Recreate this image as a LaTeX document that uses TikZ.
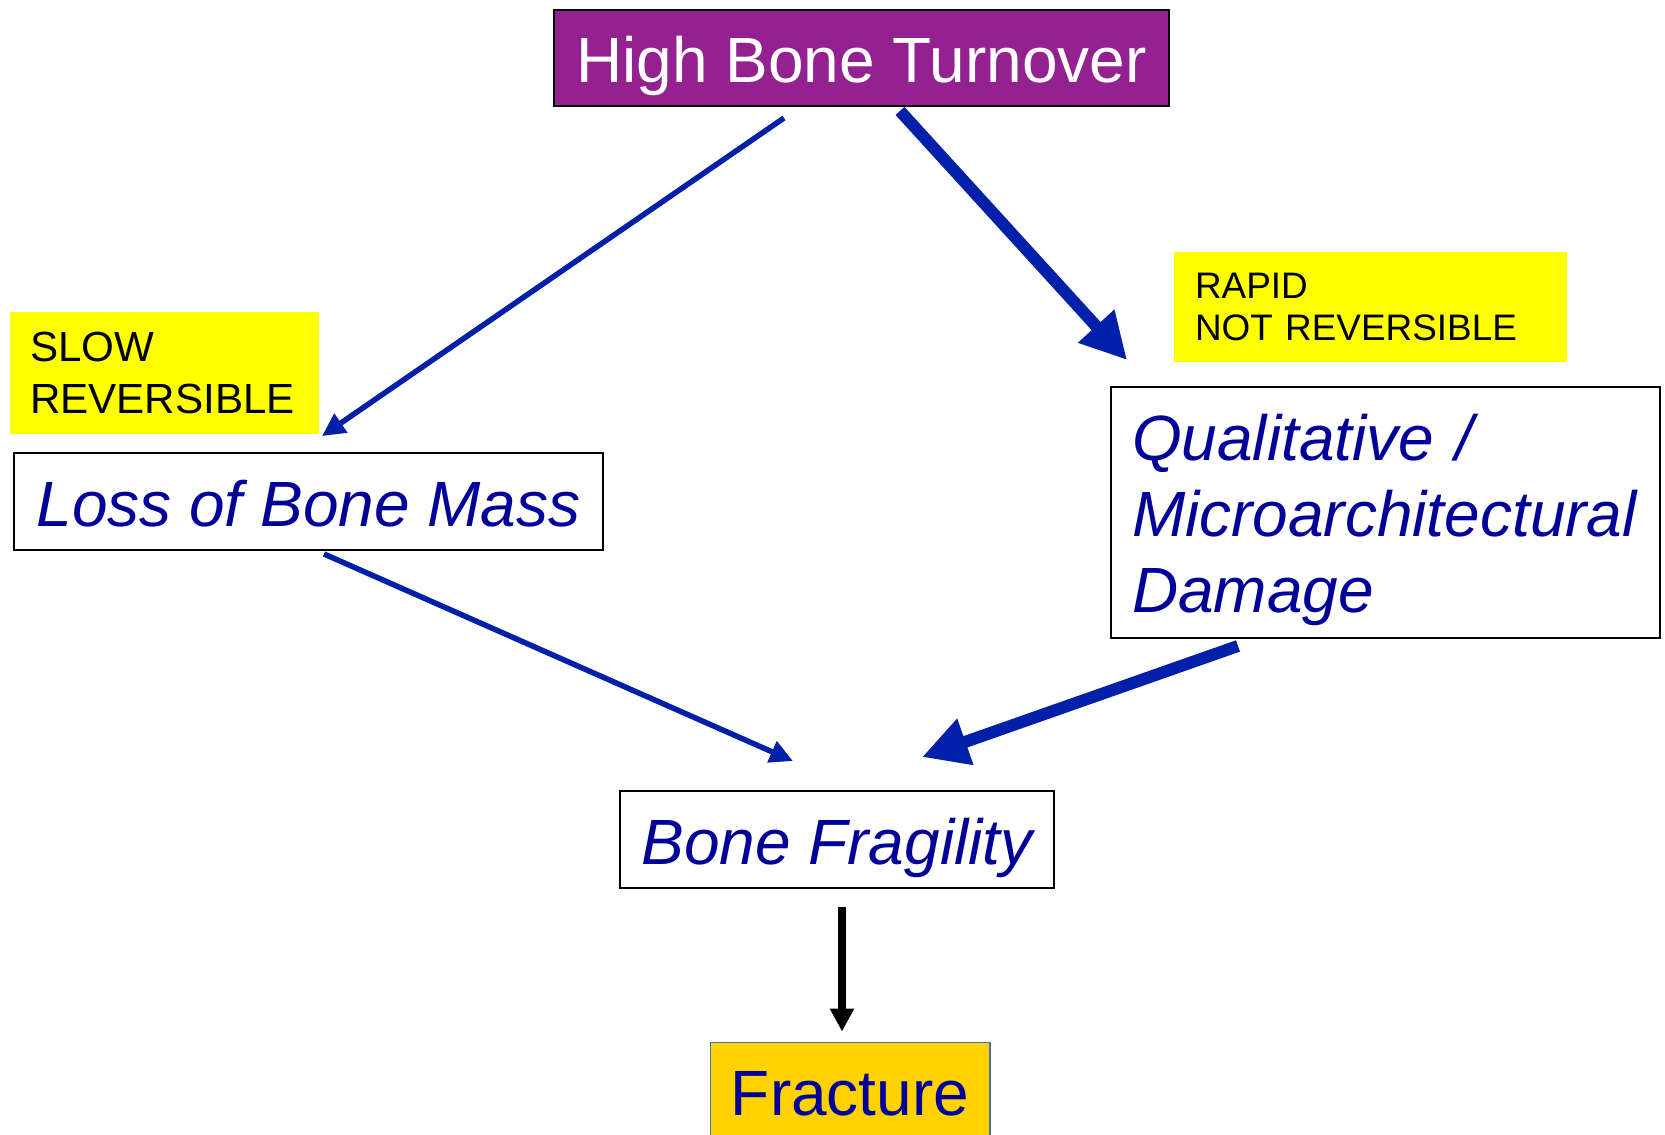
\documentclass[tikz,border=0pt]{standalone}
\usepackage{fontspec}
\setmainfont{Liberation Sans}
\usetikzlibrary{arrows.meta,calc}
\definecolor{hbtpurple}{RGB}{147,33,143}
\definecolor{navytext}{RGB}{0,0,153}
\definecolor{arrblue}{RGB}{0,32,170}
\definecolor{notey}{RGB}{255,255,0}
\definecolor{fracgold}{RGB}{255,210,0}
\definecolor{fracedge}{RGB}{70,110,170}
\tikzset{
  box/.style={draw, rectangle, line width=1.1pt, inner sep=0pt, fill=white, text=navytext, font=\fontsize{36.4pt}{43.2pt}\selectfont\itshape},
  oneline/.style={text height=28pt, text depth=0pt},
  tag/.style={fill=notey, inner sep=0pt, align=left, text=black},
  arr/.style={-{Triangle[length=0.46cm,width=0.44cm]}, line width=0.11cm, draw=arrblue},
  farr/.style={-{Triangle[length=0.92cm,width=0.92cm]}, line width=0.24cm, draw=arrblue},
  karr/.style={-{Triangle[length=0.46cm,width=0.46cm]}, line width=0.15cm, draw=black},
}
\begin{document}
\begin{tikzpicture}[x=0.02cm,y=-0.02cm]
\clip (0,0) rectangle (1665,1134);
\fill[white] (0,0) rectangle (1665,1134);
\node[box, oneline, fill=hbtpurple, text=white, font=\fontsize{36.4pt}{43.2pt}\selectfont, minimum width=12.3cm, minimum height=1.92cm] (hbt) at (861.5,58) {High Bone Turnover};
\node[tag, font=\fontsize{24pt}{29.6pt}\selectfont, text width=5.38cm, minimum width=6.18cm, minimum height=2.44cm] (slow) at (164.5,373) {SLOW\\REVERSIBLE};
\node[tag, font=\fontsize{21pt}{24pt}\selectfont, text width=7.02cm, minimum width=7.86cm, minimum height=2.2cm] (rapid) at (1370.5,307) {RAPID\\NOT REVERSIBLE};
\node[box, oneline, minimum width=11.78cm, minimum height=1.94cm] (loss) at (308.5,501.5) {Loss of Bone Mass};
\node[box, align=left, text width=10.14cm, minimum width=10.98cm, minimum height=5.02cm] (qual) at (1385.5,512.5) {\rule{0pt}{1.21cm}Qualitative /\\Microarchitectural\\Damage};
\node[box, oneline, minimum width=8.68cm, minimum height=1.94cm] (frag) at (837,839.5) {Bone Fragility};
\node[box, oneline, fill=fracgold, draw=fracedge, line width=0.6pt, font=\fontsize{36.4pt}{43.2pt}\selectfont, minimum width=5.6cm, minimum height=1.94cm] (frac) at (850,1090.5) {Fracture};
\draw[arr] ($(hbt.south)+(-77.5,11)$) -- ($(loss.north)+(13.5,-16)$);
\draw[farr] ($(hbt.south)+(38.5,4)$) -- ($(qual.north west)+(17,-26)$);
\draw[arr] ($(loss.south)+(15.5,3)$) -- ($(frag.north)+(-44,-29)$);
\draw[farr] ($(qual.south)+(-147.5,7)$) -- ($(frag.north)+(85,-33)$);
\draw[karr] ($(frag.south)+(5,18)$) -- ($(frac.north)+(-8,-10)$);
\end{tikzpicture}
\end{document}
